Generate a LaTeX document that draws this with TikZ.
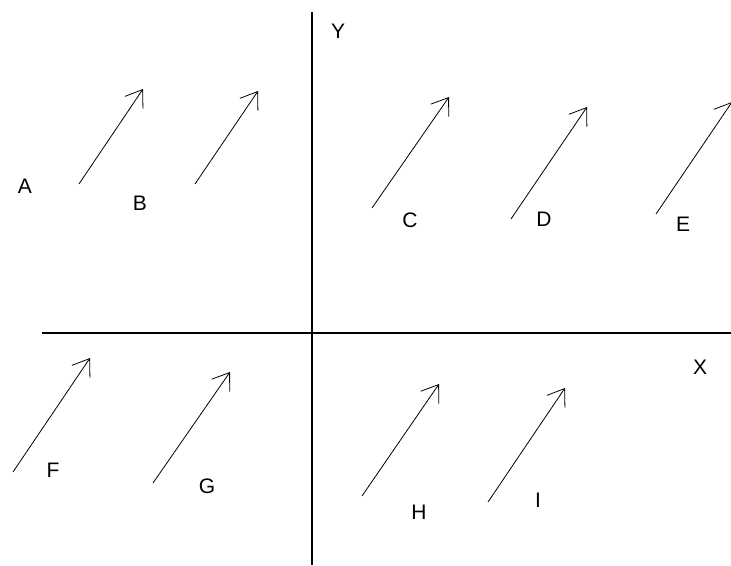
\documentclass[tikz,border=0pt]{standalone}
\usepackage{fontspec}
\setmainfont{Liberation Sans}
\usetikzlibrary{arrows.meta}
\tikzset{
  vec/.style={line width=0.8pt, -{Straight Barb[angle=70:19pt]}},
  axis/.style={line width=1.2pt},
  lbl/.style={font=\fontsize{21}{21}\selectfont, inner sep=0pt}
}

\begin{document}
\begin{tikzpicture}[x=1pt,y=-1pt]
\useasboundingbox (0,0) rectangle (731,565);
% axes
\coordinate (ytop) at (312,12);
\coordinate (ybot) at (312,565);
\coordinate (xleft) at (42,333);
\coordinate (xright) at (731,333);
\draw[axis] (ytop) -- (ybot);
\draw[axis] (xleft) -- (xright);
\node[lbl] (ylbl) at (338,31) {Y};
\node[lbl] (xlbl) at (700,367) {X};
% vectors, upper half
\coordinate (a0) at (79,184);   \coordinate (a1) at (143,89);
\coordinate (b0) at (195,184);  \coordinate (b1) at (258,91);
\coordinate (c0) at (372,208);  \coordinate (c1) at (449,97);
\coordinate (d0) at (511,219);  \coordinate (d1) at (587,107);
\coordinate (e0) at (656,214);  \coordinate (e1) at (732,102);
\draw[vec] (a0) -- (a1);
\draw[vec] (b0) -- (b1);
\draw[vec] (c0) -- (c1);
\draw[vec] (d0) -- (d1);
\draw[vec] (e0) -- (e1);
% vectors, lower half
\coordinate (f0) at (13,472);   \coordinate (f1) at (90,358);
\coordinate (g0) at (153,483);  \coordinate (g1) at (230,372);
\coordinate (h0) at (362,496);  \coordinate (h1) at (439,384);
\coordinate (i0) at (488,502);  \coordinate (i1) at (565,388);
\draw[vec] (f0) -- (f1);
\draw[vec] (g0) -- (g1);
\draw[vec] (h0) -- (h1);
\draw[vec] (i0) -- (i1);
% labels
\node[lbl] (alab) at (25,186) {A};
\node[lbl] (blab) at (140,203) {B};
\node[lbl] (clab) at (410,220) {C};
\node[lbl] (dlab) at (544,219) {D};
\node[lbl] (elab) at (683,224) {E};
\node[lbl] (flab) at (53,470) {F};
\node[lbl] (glab) at (207,486) {G};
\node[lbl] (hlab) at (419,512) {H};
\node[lbl] (ilab) at (538,500) {I};
\end{tikzpicture}
\end{document}
